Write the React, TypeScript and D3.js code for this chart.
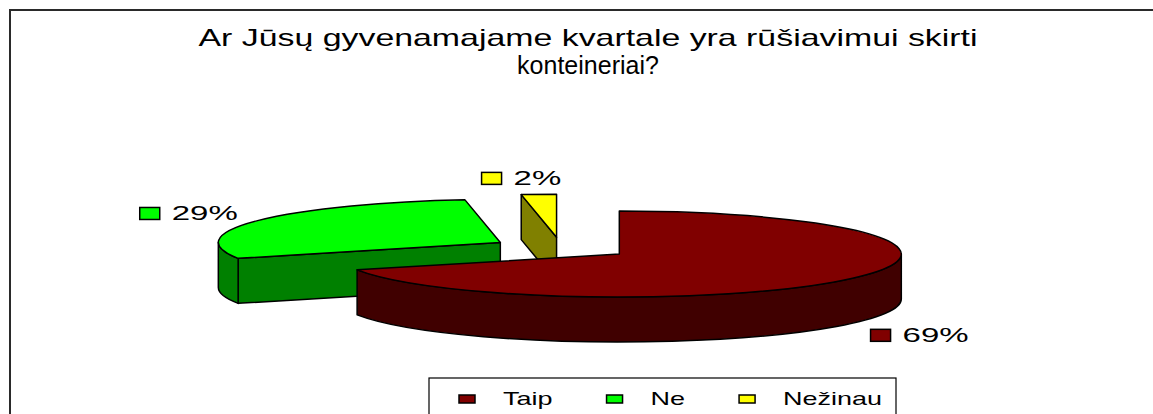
import React, { useEffect, useRef } from "react";
import * as d3 from "d3";

const categories = ["Taip", "Ne", "Nežinau"];
const values = [69, 29, 2];
const percentLabels = ["69%", "29%", "2%"];
const topColors = ["#800000", "#00ff00", "#ffff00"];
const sideColors = ["#400000", "#008000", "#808000"];
const titleLines = ["Ar Jūsų gyvenamajame kvartale yra rūšiavimui skirti", "konteineriai?"];

const W = 1153;
const H = 414;
const FONT = "'Liberation Sans', Arial, sans-serif";

export default function App() {
  const ref = useRef<SVGSVGElement>(null);
  useEffect(() => {
    const svg = d3.select(ref.current);
    svg.selectAll("*").remove();

    // chart frame
    svg.append("rect").attr("x", 10).attr("y", 10).attr("width", W).attr("height", H)
      .attr("fill", "#fff").attr("stroke", "#2a2a2a").attr("stroke-width", 2);

    // title
    const titleWidths = [779, 0];
    const titleBase = [46, 74];
    const titleSize = [24, 25];
    titleLines.forEach((t, i) => {
      const tx = svg.append("text").attr("font-family", FONT).attr("font-size", titleSize[i])
        .attr("text-anchor", "middle").attr("fill", "#000")
        .attr("x", 588).attr("y", titleBase[i]).text(t);
      if (titleWidths[i]) tx.attr("textLength", titleWidths[i]).attr("lengthAdjust", "spacingAndGlyphs");
    });

    // 3D pie geometry
    const cx = 561, cy = 248, rx = 282, ry = 43, depth = 45, explode = 0.25;
    const arcs = d3.pie<number>().sort(null).value((d) => d)(values);
    const slices = arcs.map((a, i) => {
      const t0 = a.startAngle - Math.PI / 2;
      const t1 = a.endAngle - Math.PI / 2;
      const m = (t0 + t1) / 2;
      const ox = cx + explode * rx * Math.cos(m);
      const oy = cy + explode * ry * Math.sin(m);
      return { i, t0, t1, m, ox, oy };
    });
    type S = typeof slices[number];
    const pt = (s: S, t: number, dz = 0) => [s.ox + rx * Math.cos(t), s.oy + ry * Math.sin(t) + dz];
    const f = (p: number[]) => `${p[0].toFixed(2)},${p[1].toFixed(2)}`;

    const pieG = svg.append("g").attr("stroke", "#000").attr("stroke-width", 1.5).attr("stroke-linejoin", "round");
    const order = [...slices].sort((a, b) => Math.sin(a.m) - Math.sin(b.m));
    order.forEach((s) => {
      const g = pieG.append("g");
      const side = sideColors[s.i];
      if (Math.cos(s.t0) < -1e-6) {
        const a = [s.ox, s.oy], b = pt(s, s.t0);
        g.append("path").attr("fill", side)
          .attr("d", `M${f(a)}L${f(b)}L${f([b[0], b[1] + depth])}L${f([a[0], a[1] + depth])}Z`);
      }
      if (Math.cos(s.t1) > 1e-6) {
        const a = [s.ox, s.oy], b = pt(s, s.t1);
        g.append("path").attr("fill", side)
          .attr("d", `M${f(a)}L${f(b)}L${f([b[0], b[1] + depth])}L${f([a[0], a[1] + depth])}Z`);
      }
      const w0 = Math.max(s.t0, 0), w1 = Math.min(s.t1, Math.PI);
      if (w1 > w0) {
        g.append("path").attr("fill", side)
          .attr("d", `M${f(pt(s, w0))}A${rx},${ry} 0 0 1 ${f(pt(s, w1))}L${f(pt(s, w1, depth))}A${rx},${ry} 0 0 0 ${f(pt(s, w0, depth))}Z`);
      }
      const large = s.t1 - s.t0 > Math.PI ? 1 : 0;
      g.append("path").attr("fill", topColors[s.i])
        .attr("d", `M${f([s.ox, s.oy])}L${f(pt(s, s.t0))}A${rx},${ry} 0 ${large} 1 ${f(pt(s, s.t1))}Z`);
    });

    // data labels with legend keys
    const labSx = 1.65;
    const labG = svg.append("g");
    slices.forEach((s) => {
      const c = Math.cos(s.m), sn = Math.sin(s.m);
      const lx = s.ox + 305 * c;
      const ly = s.oy + 61 * sn + (sn > 0 ? depth : 0) + 2;
      const txt = labG.append("text").attr("font-family", FONT).attr("font-size", 20).attr("fill", "#000")
        .text(percentLabels[s.i]);
      const tw = (txt.node() as SVGTextElement).getComputedTextLength() * labSx;
      let textX: number;
      if (c > 0.3) textX = lx + 31;
      else if (c < -0.3) textX = lx - tw;
      else textX = lx - tw / 2;
      txt.attr("transform", `translate(${textX},${ly + 7}) scale(${labSx},1)`);
      labG.append("rect").attr("x", textX - 32).attr("y", ly - 6).attr("width", 20).attr("height", 12)
        .attr("fill", topColors[s.i]).attr("stroke", "#000").attr("stroke-width", 1.5);
    });

    // legend
    const legSx = 1.5;
    const leg = svg.append("g");
    const legX = 429, legY = 378;
    leg.append("rect").attr("x", legX).attr("y", legY).attr("width", 467).attr("height", 70)
      .attr("fill", "#fff").attr("stroke", "#000").attr("stroke-width", 1.2);
    let x = legX + 30;
    categories.forEach((cat, i) => {
      leg.append("rect").attr("x", x).attr("y", 395).attr("width", 16).attr("height", 8)
        .attr("fill", topColors[i]).attr("stroke", "#000").attr("stroke-width", 1.5);
      const t = leg.append("text").attr("font-family", FONT).attr("font-size", 18).attr("fill", "#000").text(cat);
      const tw = (t.node() as SVGTextElement).getComputedTextLength() * legSx;
      t.attr("transform", `translate(${x + 44},405) scale(${legSx},1)`);
      x += 44 + tw + 54;
    });
  }, []);
  return (
    <svg ref={ref} width={W} height={H}
      style={{ position: "absolute", left: 0, top: 0, display: "block", background: "#fff" }} />
  );
}
